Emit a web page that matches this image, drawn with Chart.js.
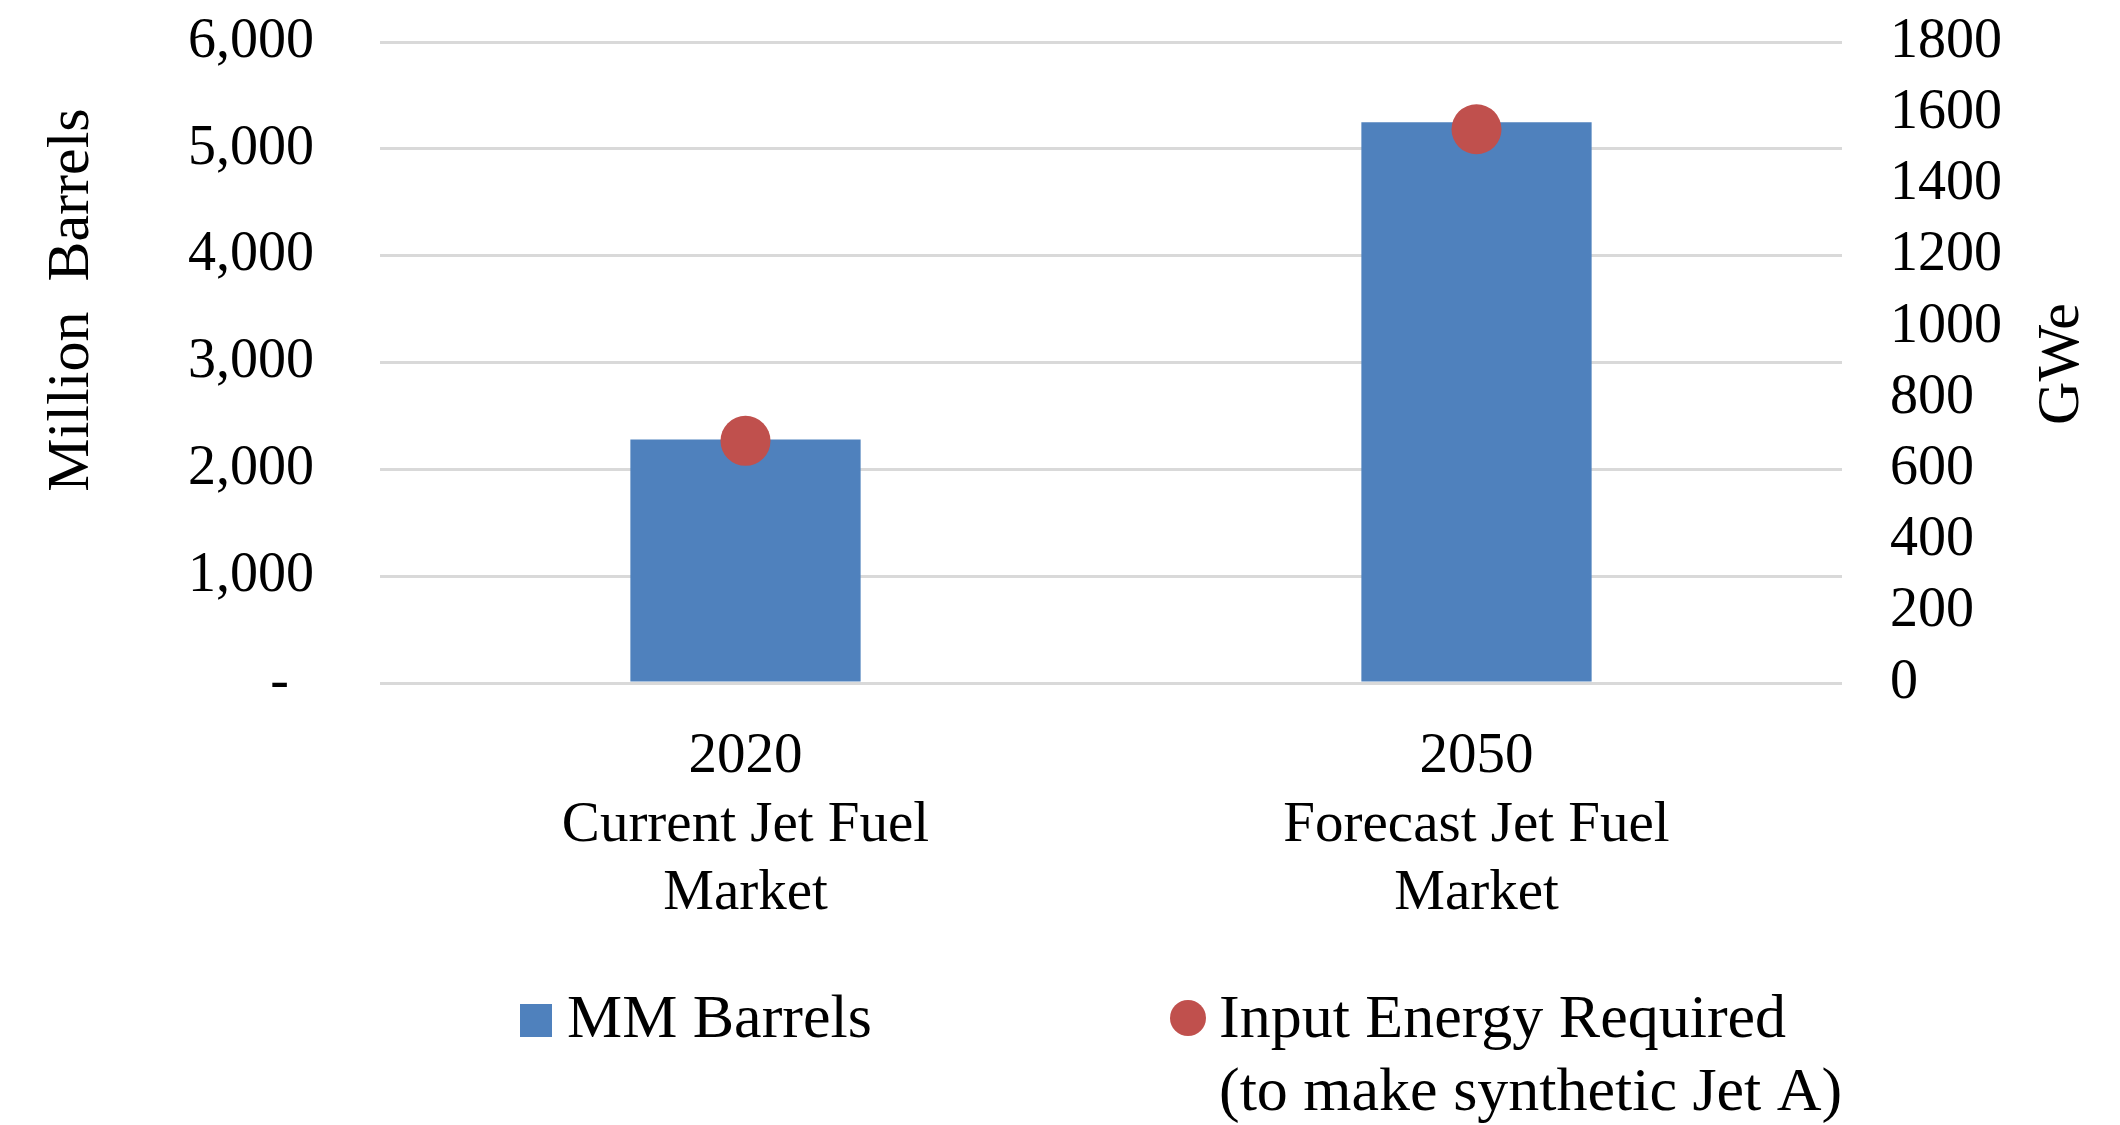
<!DOCTYPE html>
<html>
<head>
<meta charset="utf-8">
<script src="https://cdn.jsdelivr.net/npm/chart.js@4.4.1/dist/chart.umd.min.js"></script>
<style>
  html, body { margin: 0; padding: 0; background: #ffffff; }
  #wrap { width: 2120px; height: 1125px; }
</style>
</head>
<body>
<div id="wrap"><canvas id="c" width="2120" height="1125"></canvas></div>
<script>
// Jet fuel market: barrels (left axis) and electric input energy (right axis)
const categories = [
  ["2020", "Current Jet Fuel", "Market"],
  ["2050", "Forecast Jet Fuel", "Market"]
];
const mmBarrels = [2280, 5250];
const inputEnergyGWe = [680, 1555];
const barrelsSeriesName = "MM Barrels";
const energySeriesName = ["Input Energy Required", "(to make synthetic Jet A)"];
const leftAxisTitle = "Million  Barrels";
const rightAxisTitle = "GWe";

const SERIF = '"Liberation Serif", "Times New Roman", serif';
const BLUE = '#4f81bd';
const RED = '#c0504d';
const GRID = '#d9d9d9';

// Axis titles (both read bottom-to-top) and the two-row key beneath the plot
const titlesAndKey = {
  id: 'titlesAndKey',
  afterDraw(chart) {
    const ctx = chart.ctx;
    ctx.save();
    ctx.fillStyle = '#000';
    ctx.textAlign = 'center';
    ctx.textBaseline = 'middle';
    ctx.font = '60px ' + SERIF;

    ctx.save();
    ctx.translate(72, 300);
    ctx.rotate(-Math.PI / 2);
    ctx.fillText(leftAxisTitle, 0, 0);
    ctx.restore();

    ctx.save();
    ctx.translate(2062, 364);
    ctx.rotate(-Math.PI / 2);
    ctx.fillText(rightAxisTitle, 0, 0);
    ctx.restore();

    // key
    const ds = chart.data.datasets;
    ctx.font = '62px ' + SERIF;
    ctx.textAlign = 'left';
    ctx.textBaseline = 'alphabetic';
    ctx.fillStyle = ds[1].backgroundColor;
    ctx.fillRect(520, 1004, 32, 33);
    ctx.fillStyle = '#000';
    ctx.fillText(ds[1].label, 567, 1037);

    ctx.fillStyle = ds[0].backgroundColor;
    ctx.beginPath();
    ctx.arc(1188, 1018, 18, 0, Math.PI * 2);
    ctx.fill();
    ctx.fillStyle = '#000';
    const lines = ds[0].label;
    lines.forEach((t, i) => ctx.fillText(t, 1219, 1037 + i * 73));
    ctx.restore();
  }
};

// fixed side widths; the plot top comes from layout padding only
function fitSide(width) {
  return s => {
    s.width = width;
    s.paddingTop = 0;
    s.paddingBottom = 0;
  };
}

new Chart(document.getElementById('c'), {
  data: {
    labels: categories,
    datasets: [
      {
        type: 'line',
        label: energySeriesName,
        data: inputEnergyGWe,
        yAxisID: 'y1',
        showLine: false,
        pointStyle: 'circle',
        pointRadius: 25,
        pointHoverRadius: 25,
        pointBorderWidth: 0,
        backgroundColor: RED,
        borderColor: RED,
        order: 0
      },
      {
        type: 'bar',
        label: barrelsSeriesName,
        data: mmBarrels,
        yAxisID: 'y',
        backgroundColor: BLUE,
        categoryPercentage: 1.0,
        barPercentage: 0.315,
        order: 1
      }
    ]
  },
  options: {
    responsive: false,
    animation: false,
    devicePixelRatio: 1,
    layout: { padding: { top: 42, left: 0, right: 0, bottom: 0 } },
    plugins: {
      legend: { display: false },
      tooltip: { enabled: false }
    },
    scales: {
      x: {
        type: 'category',
        offset: true,
        grid: { display: false, drawTicks: false },
        border: { display: false },
        ticks: {
          color: '#000',
          font: { family: SERIF, size: 57, lineHeight: 1.2 },
          padding: 40,
          maxRotation: 0,
          autoSkip: false
        },
        afterFit(s) { s.height = 442; }
      },
      y: {
        position: 'left',
        min: 0,
        max: 6000,
        grid: { color: GRID, lineWidth: 3, drawTicks: false },
        border: { display: false },
        ticks: {
          stepSize: 1000,
          autoSkip: false,
          color: '#000',
          padding: 66,
          font: { family: SERIF, size: 56 },
          callback: v => v === 0 ? '- \u2009' : v.toLocaleString('en-US')
        },
        afterFit: fitSide(380)
      },
      y1: {
        position: 'right',
        min: 0,
        max: 1800,
        grid: { drawOnChartArea: false, drawTicks: false },
        border: { display: false },
        ticks: {
          stepSize: 200,
          autoSkip: false,
          color: '#000',
          padding: 48,
          font: { family: SERIF, size: 56 },
          callback: v => String(v)
        },
        afterFit: fitSide(278)
      }
    }
  },
  plugins: [titlesAndKey]
});
</script>
</body>
</html>
